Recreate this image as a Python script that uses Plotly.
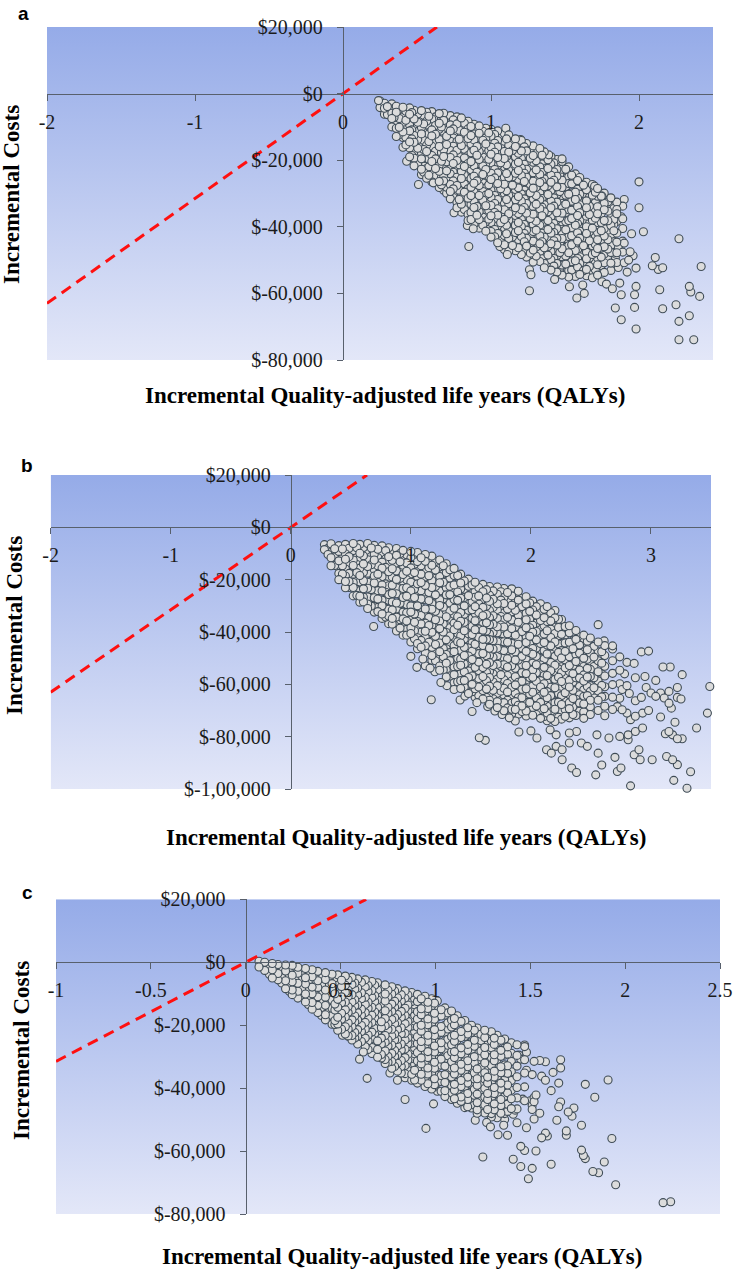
import plotly.graph_objects as go

W, H = 734, 1270
wtp = 31500  # slope of the dashed threshold line, $ per QALY

# ---------------- panel a ----------------
a_xticks = [-2, -1, 0, 1, 2]
a_xlabels = ["-2", "-1", "0", "1", "2"]
a_yticks = [20000, 0, -20000, -40000, -60000, -80000]
a_ylabels = ["$20,000", "$0", "$-20,000", "$-40,000", "$-60,000", "$-80,000"]

# dense core, read column by column: QALY value and the costs ($ thousands) found in it
a_core_qaly = [0.25, 0.28, 0.33, 0.36, 0.405, 0.45, 0.48, 0.53, 0.565, 0.60, 0.65, 0.68,
               0.725, 0.77, 0.80, 0.845, 0.885, 0.92, 0.965, 1.00, 1.045, 1.09, 1.12, 1.165,
               1.205, 1.24, 1.285, 1.33, 1.36, 1.405, 1.445, 1.48, 1.525, 1.57, 1.60, 1.645,
               1.685, 1.72, 1.765, 1.81, 1.85, 1.89]
a_core_cost = [
    [-2.2, -4.2],
    [-2.9, -4.4, -6.2],
    [-3.1, -5.9, -7.5, -10.0],
    [-3.8, -5.6, -8.7, -10.4, -12.9],
    [-4.1, -6.9, -8.6, -11.5, -13.2, -16.1],
    [-4.3, -6.2, -9.4, -11.2, -14.5, -16.3, -19.0],
    [-5.0, -7.6, -9.3, -12.6, -14.6, -17.5, -19.4, -21.7],
    [-5.1, -6.9, -10.2, -12.1, -14.9, -17.8, -19.6, -22.7, -24.3],
    [-5.6, -8.3, -10.0, -13.2, -15.5, -17.4, -20.6, -22.5, -25.4],
    [-5.4, -7.6, -10.9, -12.7, -15.8, -18.6, -20.4, -23.6, -26.5],
    [-6.0, -8.9, -10.7, -13.8, -15.9, -18.7, -21.5, -23.3, -26.4, -28.2],
    [-5.9, -8.1, -11.6, -13.5, -16.8, -18.9, -21.3, -24.5, -26.2, -29.0],
    [-6.6, -9.4, -11.2, -14.3, -17.1, -19.2, -22.4, -24.1, -27.3, -29.4, -31.6],
    [-7.0, -9.1, -12.4, -14.4, -17.0, -20.1, -21.9, -25.1, -27.6, -29.5, -32.7, -34.3],
    [-7.3, -10.3, -12.1, -15.6, -17.9, -20.2, -23.3, -25.5, -28.3, -30.6, -33.2, -35.6],
    [-8.3, -10.6, -13.5, -15.4, -18.6, -21.0, -23.2, -26.4, -28.6, -31.4, -33.5, -36.3, -38.1],
    [-9.2, -12.1, -13.9, -17.0, -19.3, -21.7, -24.8, -26.9, -29.5, -32.3, -34.2, -37.4, -39.2],
    [-9.7, -11.9, -15.2, -17.4, -19.8, -22.9, -25.1, -27.6, -30.6, -32.6, -35.5, -37.8, -40.4],
    [-10.4, -13.3, -15.1, -18.3, -20.9, -22.8, -26.0, -28.3, -30.5, -33.7, -35.9, -38.5, -41.3],
    [-10.7, -12.8, -16.1, -18.2, -20.8, -23.9, -25.8, -29.0, -31.2, -33.6, -36.7, -38.7, -41.4, -43.1],
    [-11.2, -14.1, -16.0, -19.2, -21.6, -23.8, -27.0, -29.1, -31.8, -34.6, -36.5, -39.7, -42.0, -44.8],
    [-12.0, -14.3, -17.4, -19.5, -22.0, -25.1, -27.2, -29.9, -32.8, -34.9, -37.8, -40.3, -42.6, -45.4, -46.8],
    [-12.4, -15.5, -17.6, -20.6, -23.1, -25.2, -28.4, -30.6, -33.1, -36.1, -38.0, -41.2, -43.5, -45.9, -47.3],
    [-13.6, -15.9, -19.0, -21.2, -23.9, -26.8, -28.8, -31.9, -34.3, -36.6, -39.6, -41.7, -44.8, -47.2],
    [-14.1, -17.2, -19.5, -22.3, -24.6, -27.0, -30.1, -32.3, -34.9, -37.8, -39.9, -42.9, -45.4, -48.3],
    [-15.0, -17.2, -20.5, -22.7, -25.1, -28.3, -30.4, -33.0, -35.9, -37.9, -41.0, -43.4, -45.8, -49.1],
    [-15.7, -18.6, -20.6, -23.8, -26.3, -28.4, -31.6, -33.9, -36.2, -39.3, -41.4, -44.3, -47.0, -49.2, -50.6],
    [-16.5, -18.8, -22.0, -24.3, -26.7, -29.8, -31.9, -34.6, -37.5, -39.5, -42.7, -45.1, -47.5, -50.4],
    [-17.5, -20.4, -22.4, -25.6, -28.0, -30.2, -33.4, -35.5, -38.2, -41.0, -43.1, -46.3, -48.6, -51.0, -52.3],
    [-18.9, -21.2, -24.5, -26.6, -29.1, -32.3, -34.3, -37.0, -39.9, -41.9, -45.1, -47.4, -49.9, -53.0],
    [-19.8, -22.8, -24.8, -28.0, -30.4, -32.6, -35.8, -37.9, -40.6, -43.5, -45.5, -48.7, -51.0, -53.6],
    [-20.4, -22.7, -26.0, -28.2, -30.6, -33.8, -35.9, -38.5, -41.5, -43.5, -46.6, -49.0, -51.5, -54.5],
    [-22.0, -25.0, -27.0, -30.2, -32.6, -34.9, -38.1, -40.2, -42.9, -45.7, -47.8, -51.0, -53.2, -55.1],
    [-24.1, -26.3, -29.6, -31.8, -34.3, -37.4, -39.5, -42.1, -45.1, -47.1, -50.2, -52.6, -54.9],
    [-25.2, -28.2, -30.2, -33.4, -35.8, -38.1, -41.3, -43.4, -46.1, -49.0, -51.0, -54.3],
    [-26.6, -28.9, -32.2, -34.3, -36.8, -40.0, -42.0, -44.7, -47.6, -49.6, -52.8, -54.7],
    [-27.3, -30.5, -32.4, -35.7, -38.0, -40.4, -43.5, -45.7, -48.3, -51.3, -53.2, -55.3],
    [-28.5, -30.8, -34.0, -36.1, -38.7, -41.7, -43.9, -46.5, -49.4, -51.4, -54.5],
    [-29.9, -33.0, -34.9, -38.1, -40.6, -42.8, -46.0, -48.2, -50.8, -53.7],
    [-31.3, -33.8, -37.3, -39.6, -42.4, -45.6, -47.7, -50.9, -53.1],
    [-32.6, -36.1, -38.4, -41.9, -44.6, -47.8, -50.7],
    [-33.8, -37.6, -40.5, -44.3, -47.6],
]
# second pass over the core, between the columns above (the cloud is heavily overplotted)
a_core2_qaly = [0.30, 0.345, 0.38, 0.425, 0.465, 0.505, 0.545, 0.58, 0.625, 0.665, 0.70,
                0.745, 0.785, 0.82, 0.865, 0.905, 0.945, 0.985, 1.025, 1.065, 1.105, 1.145,
                1.185, 1.225, 1.265, 1.305, 1.345, 1.385, 1.425, 1.465, 1.505, 1.545, 1.585,
                1.625, 1.665, 1.705, 1.745, 1.79, 1.83]
a_core2_cost = [
    [-3.9, -6.3],
    [-4.4, -7.2, -9.4],
    [-4.8, -7.5, -10.1, -12.4],
    [-5.3, -8.0, -10.4, -13.2, -15.4],
    [-5.7, -8.4, -10.9, -13.6, -16.1, -18.6],
    [-6.1, -8.6, -11.3, -13.8, -16.4, -18.8, -21.1],
    [-6.5, -9.1, -11.7, -14.1, -16.8, -19.1, -21.8, -23.6],
    [-6.8, -9.4, -12.1, -14.4, -17.0, -19.7, -22.0, -24.5],
    [-7.0, -9.6, -12.2, -14.8, -17.3, -19.6, -22.5, -24.9],
    [-7.2, -10.0, -12.6, -15.1, -17.7, -20.3, -22.7, -25.2, -27.4],
    [-7.4, -10.2, -12.8, -15.3, -18.1, -20.5, -23.2, -25.7, -28.1],
    [-7.9, -10.6, -13.3, -15.8, -18.4, -21.0, -23.6, -26.2, -28.6, -31.2],
    [-8.3, -11.0, -13.7, -16.2, -18.9, -21.4, -24.0, -26.7, -29.0, -31.8, -33.6],
    [-8.9, -11.6, -14.2, -16.7, -19.3, -21.9, -24.5, -27.1, -29.6, -32.2, -34.8],
    [-9.9, -12.6, -15.1, -17.8, -20.4, -22.9, -25.5, -28.1, -30.6, -33.2, -35.7, -37.8],
    [-10.8, -13.3, -15.9, -18.5, -21.1, -23.6, -26.2, -28.7, -31.4, -33.9, -36.5, -38.6],
    [-11.3, -14.0, -16.6, -19.1, -21.7, -24.3, -26.8, -29.4, -32.0, -34.5, -37.1, -39.5],
    [-11.8, -14.5, -17.1, -19.7, -22.2, -24.9, -27.4, -30.0, -32.5, -35.1, -37.7, -40.2],
    [-12.3, -14.9, -17.6, -20.1, -22.8, -25.3, -27.9, -30.6, -33.0, -35.7, -38.2, -40.8, -43.0],
    [-12.9, -15.6, -18.1, -20.8, -23.3, -26.0, -28.6, -31.1, -33.7, -36.3, -38.8, -41.5, -44.0],
    [-13.6, -16.2, -18.9, -21.4, -24.0, -26.6, -29.2, -31.8, -34.3, -36.9, -39.5, -42.1, -44.7],
    [-14.6, -17.1, -19.8, -22.4, -25.0, -27.5, -30.1, -32.7, -35.3, -37.9, -40.4, -43.1, -45.6],
    [-15.3, -17.9, -20.6, -23.1, -25.7, -28.3, -30.9, -33.5, -36.0, -38.7, -41.2, -43.8, -46.3],
    [-16.0, -18.7, -21.2, -23.9, -26.4, -29.0, -31.6, -34.2, -36.8, -39.3, -42.0, -44.5, -47.0],
    [-16.8, -19.4, -22.0, -24.6, -27.2, -29.8, -32.4, -35.0, -37.5, -40.2, -42.7, -45.3, -47.9],
    [-17.6, -20.2, -22.9, -25.4, -28.1, -30.6, -33.2, -35.9, -38.3, -41.0, -43.6, -46.1, -48.8],
    [-18.5, -21.1, -23.7, -26.4, -28.9, -31.5, -34.1, -36.7, -39.3, -41.9, -44.5, -47.0, -49.6],
    [-19.9, -22.5, -25.2, -27.7, -30.3, -33.0, -35.5, -38.1, -40.8, -43.3, -45.9, -48.5, -50.9],
    [-20.8, -23.5, -26.0, -28.7, -31.3, -33.8, -36.5, -39.0, -41.7, -44.2, -46.8, -49.5, -51.8],
    [-21.6, -24.2, -26.9, -29.4, -32.1, -34.6, -37.3, -39.8, -42.5, -45.0, -47.7, -50.2, -52.5],
    [-22.7, -25.3, -28.0, -30.5, -33.2, -35.7, -38.4, -40.9, -43.6, -46.1, -48.8, -51.2, -53.4],
    [-24.5, -27.1, -29.8, -32.3, -35.0, -37.5, -40.2, -42.7, -45.4, -47.9, -50.5, -53.0],
    [-26.1, -28.7, -31.4, -33.9, -36.6, -39.1, -41.8, -44.3, -47.0, -49.5, -52.1],
    [-27.5, -30.1, -32.8, -35.3, -38.0, -40.5, -43.2, -45.7, -48.4, -50.9, -53.2],
    [-28.5, -31.1, -33.8, -36.3, -39.0, -41.5, -44.2, -46.7, -49.4, -51.9],
    [-29.6, -32.2, -34.9, -37.4, -40.1, -42.6, -45.3, -47.8, -50.5, -52.9],
    [-30.8, -33.5, -36.0, -38.7, -41.2, -43.9, -46.4, -49.1, -51.6],
    [-32.5, -35.3, -38.2, -41.0, -43.9, -46.7, -49.6],
    [-34.5, -37.8, -41.2, -44.5, -47.9],
]
# scattered points outside the core (QALY, cost $ thousands)
a_sparse = [
    (0.24, -2.1), (1.10, -10.4), (1.20, -13.8), (1.39, -18.4), (1.48, -19.6),
    (0.43, -20.3), (0.51, -27.3), (0.61, -26.8), (0.70, -29.9), (0.75, -35.8), (0.84, -39.6),
    (0.88, -40.6), (0.85, -45.9), (1.06, -45.9), (1.11, -48.3), (1.26, -52.9), (1.27, -54.4),
    (1.26, -59.2), (1.43, -55.8), (1.53, -58.0), (1.58, -61.4), (1.63, -60.0), (1.62, -57.5),
    (1.75, -56.5), (1.78, -57.2), (1.82, -58.6), (1.84, -64.4), (1.88, -67.9), (1.87, -56.9),
    (1.88, -60.4), (1.97, -64.2), (1.98, -70.7), (1.97, -60.4), (1.98, -57.9), (1.98, -52.4),
    (1.93, -50.0), (1.82, -44.0), (1.86, -46.2), (1.90, -44.9), (1.94, -47.5), (1.84, -49.2),
    (1.90, -50.8), (1.96, -48.7), (1.86, -52.2), (1.92, -53.6), (1.95, -42.1), (2.03, -41.5),
    (2.00, -34.3), (1.90, -31.8), (1.85, -34.8), (1.88, -37.0), (1.83, -39.2), (2.00, -26.5),
    (1.70, -27.8), (1.75, -30.8), (2.11, -49.2), (2.09, -51.7), (2.13, -52.8), (2.16, -52.3),
    (2.27, -43.6), (2.14, -58.9), (2.16, -64.6), (2.25, -63.4), (2.27, -68.4), (2.27, -73.9),
    (2.37, -73.9), (2.34, -66.7), (2.34, -57.9), (2.35, -59.6), (2.41, -60.9), (2.42, -51.9),
]

# ---------------- panel b ----------------
b_xticks = [-2, -1, 0, 1, 2, 3]
b_xlabels = ["-2", "-1", "0", "1", "2", "3"]
b_yticks = [20000, 0, -20000, -40000, -60000, -80000, -100000]
b_ylabels = ["$20,000", "$0", "$-20,000", "$-40,000", "$-60,000", "$-80,000", "$-1,00,000"]

b_core_qaly = [0.28, 0.335, 0.40, 0.455, 0.52, 0.575, 0.64, 0.695, 0.76, 0.815, 0.88, 0.935,
               1.00, 1.055, 1.12, 1.175, 1.24, 1.295, 1.36, 1.415, 1.48, 1.535, 1.60, 1.655,
               1.72, 1.775, 1.84, 1.895, 1.96, 2.015, 2.08, 2.135, 2.20, 2.255, 2.32, 2.375,
               2.44, 2.495, 2.56, 2.615, 2.68, 2.74]
b_core_cost = [
    [-6.6, -8.5],
    [-6.3, -9.6, -11.6, -14.7],
    [-7.0, -9.2, -12.8, -15.4, -17.6, -20.0],
    [-6.5, -10.1, -12.2, -15.9, -18.6, -20.7, -23.1],
    [-6.2, -8.9, -12.5, -14.6, -17.9, -21.1, -23.0, -26.2],
    [-6.5, -9.9, -12.0, -15.6, -18.4, -20.9, -24.2, -26.3, -28.6],
    [-6.2, -8.8, -12.4, -15.0, -17.5, -21.0, -23.3, -26.6, -29.3, -31.0],
    [-6.9, -10.2, -12.5, -16.1, -18.6, -21.3, -24.8, -26.9, -30.2, -32.4],
    [-7.1, -9.6, -13.3, -15.6, -18.9, -22.0, -24.3, -27.8, -30.0, -33.1, -34.8],
    [-7.8, -11.2, -13.4, -17.0, -19.5, -22.3, -25.7, -27.9, -31.3, -33.9, -36.8],
    [-8.1, -10.7, -14.4, -16.7, -19.9, -23.1, -25.4, -28.9, -31.2, -34.3, -37.1, -39.6],
    [-8.8, -12.2, -14.5, -18.0, -20.6, -23.4, -26.8, -29.0, -32.4, -35.0, -37.8, -41.2],
    [-9.2, -11.8, -15.5, -17.9, -21.0, -24.3, -26.6, -30.0, -32.4, -35.4, -38.4, -40.6, -43.8],
    [-9.6, -13.1, -15.4, -18.9, -21.6, -24.3, -27.8, -30.0, -33.3, -36.0, -38.8, -42.2, -44.4, -46.4],
    [-10.4, -13.0, -16.7, -19.0, -22.2, -25.5, -27.7, -31.2, -33.6, -36.6, -39.7, -42.0, -45.3, -48.0],
    [-11.0, -14.5, -16.8, -20.3, -23.0, -25.7, -29.1, -31.3, -34.7, -37.4, -40.1, -43.6, -45.8, -49.0, -50.8],
    [-12.5, -15.2, -18.8, -21.2, -24.3, -27.7, -29.9, -33.3, -35.8, -38.7, -41.9, -44.2, -47.5, -50.2, -53.0, -54.6],
    [-13.9, -17.3, -19.6, -23.1, -25.8, -28.5, -32.0, -34.2, -37.5, -40.2, -43.0, -46.4, -48.6, -51.9, -54.5, -57.2],
    [-15.7, -18.4, -22.0, -24.5, -27.6, -30.9, -33.2, -36.6, -39.1, -42.0, -45.2, -47.5, -50.8, -53.4, -56.3, -59.4],
    [-17.9, -21.3, -23.6, -27.1, -29.8, -32.5, -35.9, -38.2, -41.5, -44.2, -47.0, -50.4, -52.7, -56.0, -58.6, -61.6],
    [-19.8, -22.5, -26.1, -28.6, -31.7, -34.9, -37.3, -40.7, -43.1, -46.1, -49.2, -51.5, -54.9, -57.4, -60.3, -63.5],
    [-21.0, -24.4, -26.7, -30.3, -32.9, -35.7, -39.1, -41.3, -44.7, -47.3, -50.1, -53.5, -55.8, -59.1, -61.7, -64.9],
    [-21.8, -24.6, -28.2, -30.6, -33.8, -37.0, -39.3, -42.8, -45.2, -48.2, -51.3, -53.6, -57.0, -59.5, -62.4, -65.6],
    [-22.6, -25.9, -28.3, -31.8, -34.5, -37.2, -40.7, -42.9, -46.2, -48.9, -51.7, -55.1, -57.4, -60.7, -63.3, -66.1, -67.6],
    [-22.8, -25.6, -29.2, -31.6, -34.8, -38.0, -40.3, -43.7, -46.2, -49.1, -52.3, -54.6, -58.0, -60.5, -63.4, -66.6, -68.9],
    [-23.4, -26.8, -29.1, -32.7, -35.3, -38.1, -41.5, -43.7, -47.1, -49.7, -52.5, -55.9, -58.2, -61.5, -64.1, -67.0, -70.1],
    [-23.5, -26.2, -29.8, -32.3, -35.4, -38.7, -41.0, -44.4, -46.8, -49.8, -52.9, -55.2, -58.7, -61.1, -64.0, -67.2, -69.5, -71.2],
    [-24.4, -27.8, -30.1, -33.6, -36.3, -39.1, -42.5, -44.7, -48.1, -50.7, -53.5, -56.9, -59.2, -62.5, -65.1, -68.0, -71.4],
    [-26.5, -29.3, -32.8, -35.3, -38.4, -41.7, -44.0, -47.4, -49.9, -52.8, -55.9, -58.3, -61.7, -64.1, -67.0, -70.2, -72.1],
    [-28.2, -31.6, -33.9, -37.4, -40.1, -42.9, -46.3, -48.5, -51.9, -54.5, -57.3, -60.7, -63.0, -66.3, -68.9, -71.8],
    [-29.2, -31.9, -35.6, -38.0, -41.2, -44.4, -46.7, -50.1, -52.6, -55.5, -58.6, -61.0, -64.4, -66.9, -69.8, -73.0],
    [-30.3, -33.7, -36.0, -39.5, -42.2, -45.0, -48.4, -50.6, -54.0, -56.6, -59.4, -62.8, -65.1, -68.4, -71.0, -73.9],
    [-31.8, -34.6, -38.2, -40.6, -43.8, -47.0, -49.3, -52.7, -55.2, -58.1, -61.3, -63.6, -67.0, -69.5, -72.4, -74.2],
    [-35.2, -38.6, -40.9, -44.4, -47.1, -49.9, -53.3, -55.5, -58.9, -61.5, -64.3, -67.7, -70.0, -73.3],
    [-37.6, -40.3, -43.9, -46.4, -49.5, -52.8, -55.1, -58.5, -61.0, -63.9, -67.0, -69.3, -72.8],
    [-39.4, -42.8, -45.1, -48.6, -51.3, -54.1, -57.5, -59.7, -63.1, -65.7, -68.5, -71.9],
    [-41.2, -43.9, -47.6, -50.0, -53.2, -56.4, -58.7, -62.1, -64.6, -67.5, -70.6, -73.0],
    [-42.3, -45.7, -48.0, -51.6, -54.3, -57.0, -60.5, -62.7, -66.1, -68.6, -71.5],
    [-43.8, -47.6, -51.0, -55.2, -58.7, -62.5, -66.1, -70.0],
    [-45.2, -49.0, -53.1, -56.8, -60.9, -64.6, -68.4, -72.0],
    [-46.5, -51.0, -55.8, -60.1, -64.9, -69.6],
    [-49.5, -54.6, -59.8, -65.3],
]
b_core2_qaly = [0.31, 0.365, 0.43, 0.485, 0.55, 0.605, 0.67, 0.725, 0.79, 0.845, 0.91, 0.965,
                1.03, 1.085, 1.15, 1.205, 1.27, 1.325, 1.39, 1.445, 1.51, 1.565, 1.63, 1.685,
                1.75, 1.805, 1.87, 1.925, 1.99, 2.045, 2.11, 2.165, 2.23, 2.285, 2.35, 2.405,
                2.47, 2.525, 2.59]
b_core2_cost = [
    [-8.0, -10.4],
    [-8.2, -11.3, -14.6],
    [-8.3, -11.4, -14.7, -17.8, -20.0],
    [-8.0, -11.2, -14.3, -17.6, -20.7, -23.0],
    [-7.8, -11.0, -14.2, -17.3, -20.5, -23.7, -26.0],
    [-7.7, -10.9, -14.0, -17.2, -20.4, -23.5, -26.7, -28.5],
    [-7.9, -11.1, -14.3, -17.4, -20.6, -23.8, -26.9, -30.1],
    [-8.4, -11.6, -14.7, -17.9, -21.1, -24.2, -27.4, -30.6, -32.2],
    [-8.9, -12.1, -15.3, -18.4, -21.6, -24.8, -27.9, -31.1, -34.3],
    [-9.5, -12.6, -15.8, -19.0, -22.1, -25.3, -28.5, -31.6, -34.8, -37.0],
    [-10.0, -13.2, -16.3, -19.5, -22.7, -25.8, -29.0, -32.2, -35.3, -38.5],
    [-10.5, -13.6, -16.8, -20.0, -23.1, -26.3, -29.5, -32.6, -35.8, -39.0, -41.2],
    [-11.0, -14.1, -17.3, -20.5, -23.6, -26.8, -30.0, -33.1, -36.3, -39.5, -42.6],
    [-11.6, -14.7, -17.9, -21.1, -24.2, -27.4, -30.6, -33.7, -36.9, -40.1, -43.2, -45.8],
    [-12.2, -15.4, -18.5, -21.7, -24.9, -28.0, -31.2, -34.4, -37.5, -40.7, -43.9, -47.0],
    [-13.1, -16.3, -19.4, -22.6, -25.8, -28.9, -32.1, -35.3, -38.4, -41.6, -44.8, -47.9, -51.0],
    [-14.7, -17.8, -21.0, -24.2, -27.3, -30.5, -33.7, -36.8, -40.0, -43.2, -46.3, -49.5, -52.7, -54.5],
    [-16.2, -19.4, -22.5, -25.7, -28.9, -32.0, -35.2, -38.4, -41.5, -44.7, -47.9, -51.0, -54.2, -56.8],
    [-18.4, -21.6, -24.7, -27.9, -31.1, -34.2, -37.4, -40.6, -43.7, -46.9, -50.1, -53.2, -56.4, -59.0],
    [-20.5, -23.7, -26.8, -30.0, -33.2, -36.3, -39.5, -42.7, -45.8, -49.0, -52.2, -55.3, -58.5, -61.0],
    [-22.0, -25.2, -28.3, -31.5, -34.7, -37.8, -41.0, -44.2, -47.3, -50.5, -53.7, -56.8, -60.0, -62.8],
    [-23.0, -26.2, -29.3, -32.5, -35.7, -38.8, -42.0, -45.2, -48.3, -51.5, -54.7, -57.8, -61.0, -64.2],
    [-23.8, -27.0, -30.1, -33.3, -36.5, -39.6, -42.8, -46.0, -49.1, -52.3, -55.5, -58.6, -61.8, -65.0],
    [-24.3, -27.5, -30.6, -33.8, -37.0, -40.1, -43.3, -46.5, -49.6, -52.8, -56.0, -59.1, -62.3, -65.5],
    [-24.6, -27.8, -30.9, -34.1, -37.3, -40.4, -43.6, -46.8, -49.9, -53.1, -56.3, -59.4, -62.6, -65.8, -68.0],
    [-24.9, -28.1, -31.2, -34.4, -37.6, -40.7, -43.9, -47.1, -50.2, -53.4, -56.6, -59.7, -62.9, -66.1, -69.0],
    [-25.4, -28.6, -31.7, -34.9, -38.1, -41.2, -44.4, -47.6, -50.7, -53.9, -57.1, -60.2, -63.4, -66.6, -69.6],
    [-27.1, -30.3, -33.4, -36.6, -39.8, -42.9, -46.1, -49.3, -52.4, -55.6, -58.8, -61.9, -65.1, -68.3, -70.4],
    [-28.9, -32.1, -35.2, -38.4, -41.6, -44.7, -47.9, -51.1, -54.2, -57.4, -60.6, -63.7, -66.9, -70.1],
    [-30.3, -33.5, -36.6, -39.8, -43.0, -46.1, -49.3, -52.5, -55.6, -58.8, -62.0, -65.1, -68.3, -71.5],
    [-31.3, -34.5, -37.6, -40.8, -44.0, -47.1, -50.3, -53.5, -56.6, -59.8, -63.0, -66.1, -69.3, -72.3],
    [-32.6, -35.8, -38.9, -42.1, -45.3, -48.4, -51.6, -54.8, -57.9, -61.1, -64.3, -67.4, -70.6, -73.0],
    [-35.1, -38.3, -41.4, -44.6, -47.8, -50.9, -54.1, -57.3, -60.4, -63.6, -66.8, -69.9, -72.6],
    [-37.9, -41.1, -44.2, -47.4, -50.6, -53.7, -56.9, -60.1, -63.2, -66.4, -69.6, -72.2],
    [-40.1, -43.3, -46.4, -49.6, -52.8, -55.9, -59.1, -62.3, -65.4, -68.6, -71.5],
    [-41.8, -45.0, -48.1, -51.3, -54.5, -57.6, -60.8, -64.0, -67.1, -70.3],
    [-43.5, -46.8, -50.4, -53.9, -57.2, -60.8, -64.3, -67.7],
    [-45.5, -49.6, -53.2, -57.5, -61.3, -65.2],
    [-47.5, -51.9, -56.0, -60.4, -64.8],
]
b_sparse = [
    (0.69, -37.9), (1.00, -49.3), (1.05, -53.5), (1.12, -52.9), (1.17, -65.9), (1.25, -59.3),
    (1.10, -50.3), (1.16, -53.8), (1.20, -55.2), (1.30, -60.5), (1.36, -62.0), (1.41, -66.0),
    (1.45, -64.5), (1.55, -67.0), (1.64, -68.5), (1.70, -70.2), (1.82, -72.8), (1.87, -74.0),
    (1.51, -70.4), (1.57, -80.4), (1.62, -81.4), (1.76, -71.5), (1.90, -78.2), (2.00, -77.8),
    (2.05, -80.5), (2.13, -85.0), (2.17, -86.3), (2.16, -77.4), (2.21, -79.3), (2.21, -83.7),
    (2.26, -85.0), (2.26, -88.8), (2.32, -78.6), (2.32, -82.4), (2.38, -78.0), (2.34, -92.0),
    (2.38, -93.7), (2.42, -82.4), (2.47, -83.7), (2.54, -94.6), (2.55, -79.3), (2.56, -86.3),
    (2.59, -90.8), (2.65, -80.5), (2.70, -87.9), (2.72, -93.3), (2.75, -92.0), (2.74, -79.9),
    (2.81, -81.2), (2.81, -79.3), (2.83, -98.8), (2.86, -86.9), (2.87, -78.0), (2.90, -85.0),
    (2.91, -88.8), (2.93, -76.7), (3.01, -88.8), (3.13, -87.6), (3.18, -88.8), (3.22, -90.7),
    (3.26, -80.8), (3.22, -80.8), (3.18, -79.3), (3.12, -78.9), (3.15, -78.0), (3.19, -96.7),
    (3.30, -99.7), (3.33, -93.4), (3.38, -76.7), (3.47, -71.0), (3.49, -60.8),
    (2.56, -37.2), (2.61, -43.4), (2.68, -45.3), (2.80, -51.6), (2.86, -52.0), (2.92, -47.6),
    (2.98, -47.3), (3.10, -53.4), (3.16, -53.4), (3.26, -56.3), (3.22, -61.2), (3.22, -65.0),
    (3.00, -63.3), (3.04, -64.6), (3.08, -63.3), (3.11, -65.2), (3.15, -67.2), (3.17, -69.1),
    (3.25, -65.6), (3.15, -62.7), (2.93, -71.0), (2.87, -72.2), (2.83, -73.5), (2.96, -61.2),
    (2.92, -65.0), (2.87, -66.3), (2.80, -71.0), (2.76, -69.7), (2.72, -68.5), (2.87, -57.5),
    (2.80, -60.5), (2.95, -57.0), (3.04, -58.5), (2.82, -63.5), (2.78, -56.0), (2.76, -62.0),
    (3.08, -72.5), (3.20, -74.5), (2.98, -70.0),
]

# ---------------- panel c ----------------
c_xticks = [-1, -0.5, 0, 0.5, 1, 1.5, 2, 2.5]
c_xlabels = ["-1", "-0.5", "0", "0.5", "1", "1.5", "2", "2.5"]
c_yticks = [20000, 0, -20000, -40000, -60000, -80000]
c_ylabels = ["$20,000", "$0", "$-20,000", "$-40,000", "$-60,000", "$-80,000"]

c_core_qaly = [0.07, 0.10, 0.14, 0.17, 0.21, 0.245, 0.275, 0.315, 0.35, 0.38, 0.42, 0.455,
               0.485, 0.525, 0.56, 0.59, 0.63, 0.665, 0.695, 0.735, 0.77, 0.80, 0.84, 0.875,
               0.905, 0.945, 0.98, 1.01, 1.05, 1.085, 1.115, 1.155, 1.19, 1.22, 1.26, 1.295,
               1.325, 1.365, 1.40, 1.43, 1.47]
c_core_cost = [
    [0.3, -1.5],
    [0.0, -2.6],
    [-0.4, -2.4, -5.0],
    [-0.7, -3.6, -5.6],
    [-0.9, -2.8, -5.9, -8.4],
    [-1.0, -4.1, -6.2, -8.8, -10.3],
    [-1.6, -3.5, -6.7, -9.2, -11.4],
    [-2.0, -4.9, -6.9, -10.1, -12.6],
    [-2.4, -4.6, -7.9, -10.0, -12.8, -14.9],
    [-2.9, -5.9, -8.0, -11.0, -13.7, -16.0],
    [-3.3, -5.5, -8.8, -11.1, -13.7, -16.7, -18.3],
    [-3.8, -6.8, -8.9, -12.0, -14.6, -16.9, -19.7],
    [-4.0, -6.2, -9.5, -11.8, -14.3, -17.5, -19.6, -21.6],
    [-4.4, -7.3, -9.5, -12.6, -15.1, -17.4, -20.5, -22.8],
    [-4.8, -7.1, -10.3, -12.6, -15.2, -18.3, -20.4, -23.3, -24.7],
    [-5.3, -8.2, -10.4, -13.5, -16.0, -18.3, -21.4, -23.5, -26.0],
    [-5.6, -7.9, -11.1, -13.4, -16.0, -19.1, -21.2, -24.1, -26.8],
    [-6.1, -9.0, -11.2, -14.3, -16.8, -19.1, -22.2, -24.3, -27.1, -29.0],
    [-6.5, -8.8, -12.0, -14.3, -16.9, -20.0, -22.1, -25.0, -27.7, -30.2],
    [-7.2, -10.1, -12.3, -15.4, -17.9, -20.2, -23.3, -25.4, -28.2, -30.9, -32.2],
    [-7.8, -10.1, -13.3, -15.6, -18.2, -21.3, -23.4, -26.3, -29.0, -31.5, -33.7],
    [-8.4, -11.3, -13.5, -16.6, -19.1, -21.4, -24.5, -26.6, -29.4, -32.1, -34.6],
    [-9.1, -11.4, -14.6, -16.9, -19.5, -22.6, -24.7, -27.6, -30.3, -32.8, -35.4, -36.7],
    [-9.6, -12.5, -14.7, -17.8, -20.3, -22.6, -25.7, -27.8, -30.6, -33.3, -35.6, -37.5],
    [-10.2, -12.5, -15.7, -18.0, -20.6, -23.7, -25.8, -28.7, -31.4, -33.9, -36.5, -38.4],
    [-10.8, -13.7, -15.9, -19.0, -21.5, -23.8, -26.9, -29.0, -31.8, -34.5, -36.8, -39.5],
    [-11.6, -13.9, -17.1, -19.4, -22.0, -25.1, -27.2, -30.1, -32.8, -35.3, -37.9, -40.3],
    [-12.3, -15.2, -17.4, -20.5, -23.0, -25.3, -28.4, -30.5, -33.3, -36.0, -38.3, -41.0],
    [-14.5, -16.8, -20.0, -22.3, -24.9, -28.0, -30.1, -33.0, -35.7, -38.2, -40.8, -42.7],
    [-15.5, -18.4, -20.6, -23.7, -26.2, -28.5, -31.6, -33.7, -36.5, -39.2, -41.5, -43.6],
    [-17.0, -19.3, -22.5, -24.8, -27.4, -30.5, -32.6, -35.5, -38.2, -40.7, -43.3, -44.8],
    [-18.5, -21.4, -23.6, -26.7, -29.2, -31.5, -34.6, -36.7, -39.5, -42.2, -44.5, -46.2],
    [-20.0, -22.3, -25.5, -27.8, -30.4, -33.5, -35.6, -38.5, -41.2, -43.7, -46.3],
    [-20.9, -23.8, -26.0, -29.1, -31.6, -33.9, -37.0, -39.1, -41.9, -44.6, -46.9, -48.0],
    [-21.6, -23.9, -27.1, -29.4, -32.0, -35.1, -37.2, -40.1, -42.8, -45.3, -47.9],
    [-22.1, -25.0, -27.2, -30.3, -32.8, -35.1, -38.2, -40.3, -43.1, -45.8, -48.1, -49.2],
    [-23.2, -25.5, -28.7, -31.0, -33.6, -36.7, -38.8, -41.7, -44.4, -46.9, -49.4],
    [-24.4, -27.3, -29.5, -32.6, -35.1, -37.4, -40.5, -42.6, -45.4, -48.1, -50.0],
    [-25.6, -28.9, -31.5, -34.8, -37.6, -40.7, -43.4, -46.5],
    [-26.2, -29.6, -33.0, -36.4, -39.8, -43.1, -46.6],
    [-26.8, -31.0, -35.2, -39.6, -44.0],
]
c_core2_qaly = [0.125, 0.155, 0.19, 0.23, 0.26, 0.295, 0.33, 0.365, 0.40, 0.44, 0.47, 0.505,
                0.54, 0.575, 0.61, 0.645, 0.68, 0.715, 0.75, 0.785, 0.82, 0.855, 0.89, 0.925,
                0.96, 0.995, 1.03, 1.065, 1.10, 1.135, 1.17, 1.205, 1.24, 1.275, 1.31, 1.345,
                1.38]
c_core2_cost = [
    [-1.1, -3.8],
    [-1.9, -4.0],
    [-1.7, -4.9, -6.6],
    [-2.5, -4.5, -7.7, -9.2],
    [-2.3, -5.6, -7.5, -10.2],
    [-3.3, -5.3, -8.6, -10.5],
    [-3.1, -6.4, -8.3, -11.6, -13.4],
    [-4.1, -6.1, -9.4, -11.3, -14.5],
    [-4.0, -7.3, -9.2, -12.5, -14.4, -16.9],
    [-5.1, -7.1, -10.4, -12.3, -15.6, -17.5],
    [-4.9, -8.1, -10.0, -13.3, -15.2, -18.5, -19.8],
    [-5.7, -7.7, -11.0, -12.9, -16.2, -18.1, -21.3],
    [-5.6, -8.9, -10.8, -14.1, -16.0, -19.3, -21.2, -23.4],
    [-6.6, -8.6, -11.9, -13.8, -17.1, -19.0, -22.3, -24.1],
    [-6.4, -9.7, -11.6, -14.9, -16.8, -20.1, -22.0, -25.2],
    [-7.4, -9.4, -12.7, -14.6, -17.9, -19.8, -23.1, -25.0, -27.7],
    [-7.3, -10.6, -12.5, -15.8, -17.7, -21.0, -22.9, -26.2, -28.1],
    [-8.4, -10.4, -13.7, -15.6, -18.9, -20.8, -24.1, -26.0, -29.3, -30.4],
    [-8.9, -11.0, -14.3, -16.2, -19.5, -21.4, -24.7, -26.6, -29.9, -31.8],
    [-9.1, -12.4, -14.3, -17.6, -19.5, -22.8, -24.7, -28.0, -29.9, -33.1],
    [-10.3, -12.3, -15.6, -17.5, -20.8, -22.7, -26.0, -27.9, -31.2, -33.1, -35.2],
    [-10.4, -13.6, -15.5, -18.8, -20.7, -24.0, -25.9, -29.2, -31.1, -34.4, -36.0],
    [-11.5, -13.5, -16.8, -18.7, -22.0, -23.9, -27.2, -29.1, -32.4, -34.3, -37.4],
    [-11.6, -14.8, -16.7, -20.0, -21.9, -25.2, -27.1, -30.4, -32.3, -35.6, -37.5],
    [-12.7, -14.7, -18.0, -19.9, -23.2, -25.1, -28.4, -30.3, -33.6, -35.5, -38.6],
    [-13.0, -16.2, -18.1, -21.4, -23.3, -26.6, -28.5, -31.8, -33.7, -37.0, -38.9],
    [-15.1, -17.1, -20.4, -22.3, -25.6, -27.5, -30.8, -32.7, -36.0, -37.9, -41.0],
    [-16.1, -19.3, -21.2, -24.5, -26.4, -29.7, -31.6, -34.9, -36.8, -40.1, -41.8],
    [-17.9, -19.9, -23.2, -25.1, -28.4, -30.3, -33.6, -35.5, -38.8, -40.7, -43.4],
    [-18.8, -22.0, -23.9, -27.2, -29.1, -32.4, -34.3, -37.6, -39.5, -42.8, -44.2],
    [-20.8, -22.8, -26.1, -28.0, -31.3, -33.2, -36.5, -38.4, -41.7, -43.6, -45.9],
    [-21.6, -24.8, -26.7, -30.0, -31.9, -35.2, -37.1, -40.4, -42.3, -45.4],
    [-22.9, -24.9, -28.2, -30.1, -33.4, -35.3, -38.6, -40.5, -43.8, -45.7],
    [-23.3, -26.1, -28.0, -31.3, -33.2, -36.5, -38.4, -41.7, -43.6, -46.8],
    [-24.1, -26.1, -29.4, -31.3, -34.6, -36.5, -39.8, -41.7, -45.0, -46.9],
    [-24.8, -28.0, -29.9, -33.2, -35.1, -38.4, -40.3, -43.6, -45.5, -48.0],
    [-26.9, -29.2, -32.9, -35.3, -39.0, -41.5, -45.1, -47.4],
]
c_sparse = [
    (0.51, -23.2), (0.54, -23.5), (0.60, -30.8), (0.62, -28.5), (0.64, -36.9), (0.76, -35.2),
    (0.80, -37.5), (0.84, -43.6), (0.95, -52.8), (0.99, -45.0), (0.99, -39.7),
    (1.25, -61.9), (1.41, -62.6), (1.45, -64.9), (1.49, -68.8), (1.51, -65.5), (1.61, -64.2),
    (1.53, -60.0), (1.45, -58.5), (1.47, -59.8), (1.56, -55.8), (1.58, -54.3), (1.59, -55.2),
    (1.69, -55.0), (1.89, -63.5), (1.69, -53.6), (1.64, -50.2), (1.65, -45.9), (1.66, -44.4),
    (1.70, -47.6), (1.73, -46.3), (1.72, -48.9), (1.77, -51.8), (1.79, -38.8), (1.84, -42.9),
    (1.91, -37.4), (1.66, -33.6), (1.66, -31.0), (1.65, -38.4), (1.61, -40.8), (1.53, -42.2),
    (1.52, -44.3), (1.51, -46.8), (1.52, -49.8), (1.38, -55.0), (1.33, -54.8), (1.29, -52.3),
    (1.27, -50.9), (1.21, -50.2), (1.93, -56.0), (1.95, -70.7), (1.83, -66.5), (1.86, -66.9),
    (2.20, -76.4), (2.24, -76.1), (1.77, -59.7), (1.78, -61.4), (1.79, -62.4), (1.47, -26.3),
    (1.48, -28.6), (1.52, -31.5), (1.55, -31.2), (1.58, -31.6), (1.51, -35.7), (1.48, -34.3),
    (1.45, -30.8), (1.44, -29.5), (1.52, -43.0), (1.51, -45.5), (1.50, -44.0), (1.46, -43.5),
    (1.42, -47.0), (1.41, -48.3), (1.38, -46.0), (1.36, -51.8), (1.43, -51.0), (1.48, -52.6),
    (1.55, -48.0), (1.58, -37.5), (1.56, -36.2), (1.62, -35.0),
]

# plot boxes in pixels (left, right, top, bottom)
panels = [
    dict(tag="a", box=(47, 713, 27, 360), xr=[-2, 2.5], yr=[-80000, 20000],
         xt=(a_xticks, a_xlabels), yt=(a_yticks, a_ylabels),
         cols=[(a_core_qaly, a_core_cost), (a_core2_qaly, a_core2_cost)], sparse=a_sparse,
         letter=(23, 13), xtitle=(385, 395), ytitle=(12, 195)),
    dict(tag="b", box=(50.7, 711, 475, 789), xr=[-2, 3.5], yr=[-100000, 20000],
         xt=(b_xticks, b_xlabels), yt=(b_yticks, b_ylabels),
         cols=[(b_core_qaly, b_core_cost), (b_core2_qaly, b_core2_cost)], sparse=b_sparse,
         letter=(27, 466), xtitle=(406, 837), ytitle=(15, 626)),
    dict(tag="c", box=(56, 720, 899.3, 1214), xr=[-1, 2.5], yr=[-80000, 20000],
         xt=(c_xticks, c_xlabels), yt=(c_yticks, c_ylabels),
         cols=[(c_core_qaly, c_core_cost), (c_core2_qaly, c_core2_cost)], sparse=c_sparse,
         letter=(27, 892), xtitle=(402, 1256), ytitle=(21, 1051)),
]

serif = "Liberation Serif, Times New Roman, serif"
axis_col = "#58606c"
bg_top, bg_bottom = "#95abe8", "#e3e7f8"

fig = go.Figure()
layout = dict(width=W, height=H,
              margin=dict(l=0, r=0, t=0, b=0, pad=0, autoexpand=False),
              paper_bgcolor="white", plot_bgcolor="white", showlegend=False,
              annotations=[])

for i, p in enumerate(panels):
    n = "" if i == 0 else str(i + 1)
    xa, ya = "x" + n, "y" + n
    left, right, top, bottom = p["box"]
    xdom = [left / W, right / W]
    ydom = [1 - bottom / H, 1 - top / H]
    xr, yr = p["xr"], p["yr"]
    # axes cross at the origin
    pos_x = xdom[0] + (0 - xr[0]) / (xr[1] - xr[0]) * (xdom[1] - xdom[0])
    pos_y = ydom[0] + (0 - yr[0]) / (yr[1] - yr[0]) * (ydom[1] - ydom[0])

    # gradient background of the plot area
    fig.add_trace(go.Scatter(
        x=[xr[0], xr[1], xr[1], xr[0], xr[0]], y=[yr[0], yr[0], yr[1], yr[1], yr[0]],
        xaxis=xa, yaxis=ya, mode="lines", line=dict(width=0), fill="toself",
        fillgradient=dict(type="vertical", colorscale=[[0, bg_bottom], [1, bg_top]]),
        hoverinfo="skip"))

    xs, ys = [], []
    for qs, cs in p["cols"]:
        for q, costs in zip(qs, cs):
            for c in costs:
                xs.append(q)
                ys.append(c * 1000)
    for q, c in p["sparse"]:
        xs.append(q)
        ys.append(c * 1000)
    # Excel stacks the markers in simulation order, so shuffle the drawing order
    # (a fixed stride permutation) instead of painting column after column
    m = len(xs)
    order = [(k * 7919) % m for k in range(m)]
    xs = [xs[k] for k in order]
    ys = [ys[k] for k in order]
    fig.add_trace(go.Scatter(
        x=xs, y=ys, xaxis=xa, yaxis=ya, mode="markers", cliponaxis=False,
        marker=dict(size=8, color="#dcdcdc", line=dict(color="#3f4c57", width=1.1))))

    # threshold line through the origin
    fig.add_trace(go.Scatter(
        x=[xr[0], yr[1] / wtp], y=[wtp * xr[0], yr[1]], xaxis=xa, yaxis=ya,
        mode="lines", line=dict(color="#ff1010", width=3, dash="11px,7px")))

    common = dict(showgrid=False, zeroline=False, showline=True, linecolor=axis_col,
                  linewidth=1.3, ticks="outside", ticklen=6, tickwidth=1.2,
                  tickcolor=axis_col, anchor="free", fixedrange=True, automargin=False,
                  tickfont=dict(family=serif, size=20, color="#1b1b1b"))
    layout["xaxis" + n] = dict(common, domain=xdom, range=xr, position=pos_y,
                               tickvals=p["xt"][0], ticktext=p["xt"][1],
                               ticklabelstandoff=4)
    layout["yaxis" + n] = dict(common, domain=ydom, range=yr, position=pos_x,
                               tickvals=p["yt"][0], ticktext=p["yt"][1],
                               ticklabelstandoff=10)

    lx, ly = p["letter"]
    layout["annotations"].append(dict(
        text="<b>" + p["tag"] + "</b>", x=lx / W, y=1 - ly / H, xref="paper", yref="paper",
        showarrow=False, xanchor="center", yanchor="middle",
        font=dict(family="Liberation Sans, Arial, sans-serif", size=19, color="black")))
    tx, ty = p["xtitle"]
    layout["annotations"].append(dict(
        text="<b>Incremental Quality-adjusted life years (QALYs)</b>",
        x=tx / W, y=1 - ty / H, xref="paper", yref="paper", showarrow=False,
        xanchor="center", yanchor="middle", font=dict(family=serif, size=23, color="black")))
    yx, yy = p["ytitle"]
    layout["annotations"].append(dict(
        text="<b>Incremental Costs</b>", x=yx / W, y=1 - yy / H, xref="paper", yref="paper",
        showarrow=False, textangle=-90, xanchor="center", yanchor="middle",
        font=dict(family=serif, size=23, color="black")))

fig.update_layout(**layout)
# the page body margin would push the 734x1270 figure off the window
fig.write_html("out.html", config={"displayModeBar": False},
               post_script="document.body.style.margin='0px';")
